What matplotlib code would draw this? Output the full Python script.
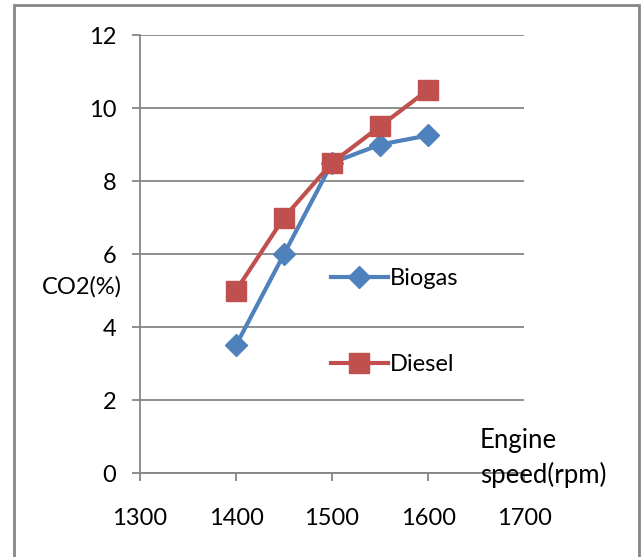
import matplotlib.pyplot as plt
from matplotlib.patches import Rectangle

plt.rcParams['font.family'] = ['Lato', 'DejaVu Sans']

speed = [1400, 1450, 1500, 1550, 1600]
biogas = [3.5, 6.0, 8.5, 9.0, 9.25]
diesel = [5.0, 7.0, 8.5, 9.5, 10.5]
xticks = [1300, 1400, 1500, 1600, 1700]
yticks = [0, 2, 4, 6, 8, 10, 12]

blue = '#4F81BD'
red = '#C0504D'
grey = '#868686'

fig = plt.figure(figsize=(6.44, 5.57), dpi=100)
ax = fig.add_axes([0.2174, 0.1508, 0.5963, 0.7862])

ax.plot(speed, biogas, color=blue, lw=3, marker='D', ms=11, label='Biogas', zorder=3)
ax.plot(speed, diesel, color=red, lw=3, marker='s', ms=14, label='Diesel', zorder=3)

ax.set_xlim(1300, 1700)
ax.set_ylim(0, 12)
ax.set_xticks(xticks)
ax.set_yticks(yticks)
ax.grid(axis='y', color=grey, lw=1.3)
ax.set_axisbelow(True)
for s in ['top', 'right']:
    ax.spines[s].set_visible(False)
for s in ['left', 'bottom']:
    ax.spines[s].set_color(grey)
    ax.spines[s].set_linewidth(1.3)
ax.tick_params(axis='x', direction='out', length=6, width=1.3, color=grey, labelsize=17, pad=19)
ax.tick_params(axis='y', direction='out', length=6, width=1.3, color=grey, labelsize=17, pad=11)

fig.text(42 / 644, 1 - 287 / 557, 'CO2(%)', fontsize=17, ha='left', va='center')
fig.text(480 / 644, 1 - 458 / 557, 'Engine\nspeed(rpm)', fontsize=18.5, ha='left', va='center',
         linespacing=1.45)

ax.legend(loc='upper left', bbox_to_anchor=(331 / 644, 1 - 268 / 557),
          bbox_transform=fig.transFigure, frameon=False, fontsize=17,
          handlelength=2.4, handletextpad=0.1, labelspacing=2.75, numpoints=1,
          borderaxespad=0, borderpad=0)

fig.patches.append(Rectangle((14 / 644, -0.05), 625 / 644, 1.05 - 5 / 557,
                             transform=fig.transFigure, fill=False,
                             edgecolor=grey, lw=2))

fig.savefig('out.png', dpi=100)
